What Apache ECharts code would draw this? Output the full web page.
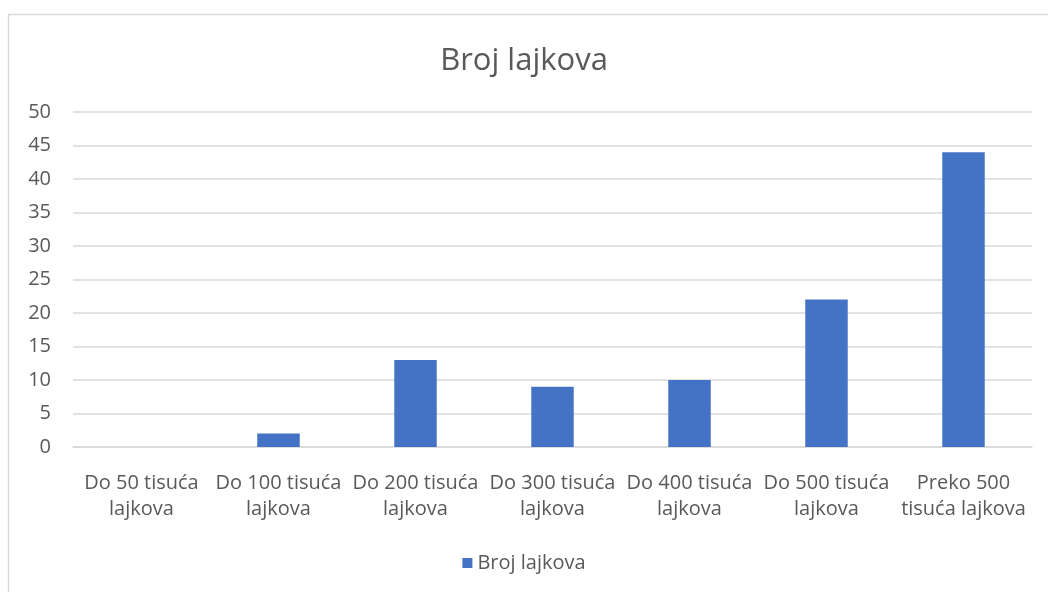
<!DOCTYPE html>
<html><head><meta charset="utf-8">
<script src="https://cdn.jsdelivr.net/npm/echarts@6/dist/echarts.min.js"></script>
<style>html,body{margin:0;padding:0;background:#fff}#c{width:1048px;height:592px}</style>
</head><body><div id="c"></div>
<script>
const categories = ['Do 50 tisuća\nlajkova','Do 100 tisuća\nlajkova','Do 200 tisuća\nlajkova','Do 300 tisuća\nlajkova','Do 400 tisuća\nlajkova','Do 500 tisuća\nlajkova','Preko 500\ntisuća lajkova'];
const values = [0, 2, 13, 9, 10, 22, 44];
const seriesName = 'Broj lajkova';
const titleText = 'Broj lajkova';

const chart = echarts.init(document.getElementById('c'));
const font = '"Open Sans", sans-serif';
chart.setOption({
  animation: false,
  graphic: [{type:'rect', shape:{x:8.5,y:14.5,width:1060,height:600}, style:{fill:'none',stroke:'#d9d9d9',lineWidth:1.5}, silent:true}],
  title: {text: titleText, left: 'center', top: 41, textStyle:{fontFamily:font, fontSize:31, fontWeight:'normal', color:'#595959'}},
  legend: {bottom: 14, left: 'center', itemWidth: 10, itemHeight: 10, itemGap: 6, icon: 'rect',
    textStyle:{fontFamily:font, fontSize:20, color:'#595959'}, data:[seriesName]},
  grid: {left: 73, right: 16, top: 112, bottom: 145, containLabel: false},
  xAxis: {type:'category', data: categories,
    axisLine:{lineStyle:{color:'#d9d9d9', width:1.5}}, axisTick:{show:false},
    axisLabel:{interval:0, fontFamily:font, fontSize:20, color:'#595959', lineHeight:26, margin:23}},
  yAxis: {type:'value', min:0, max:50, interval:5,
    axisLine:{show:false}, axisTick:{show:false},
    splitLine:{lineStyle:{color:'#d9d9d9', width:1.5}},
    axisLabel:{fontFamily:font, fontSize:20, color:'#595959', margin:22}},
  series: [{name: seriesName, type:'bar', data: values, barWidth: '31%', itemStyle:{color:'#4472c4'}}]
});
</script></body></html>
